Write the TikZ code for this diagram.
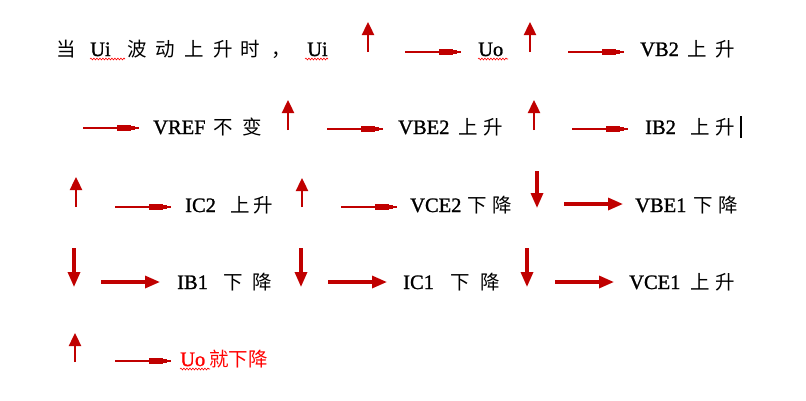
\documentclass[tikz,border=0pt]{standalone}
\usepackage{fontspec}
\setmainfont{Liberation Serif}[FakeBold=1.2]
\newfontfamily\cjk{Noto Sans CJK SC}
\usetikzlibrary{arrows.meta,decorations.pathmorphing}
\definecolor{arrred}{HTML}{C00000}
\definecolor{txtred}{HTML}{FF0000}
\tikzset{
  lat/.style={anchor=base west, inner sep=0pt, font=\fontsize{20.5}{20}\selectfont},
  zh/.style={anchor=base west, inner sep=0pt, font=\cjk\fontsize{19.5}{20}\selectfont},
  uparr/.style={draw=arrred, line width=2.4pt, -{Triangle[length=13pt,width=12pt]}, arrred},
  downarr/.style={draw=arrred, line width=3.2pt, -{Triangle[length=15pt,width=12pt]}, arrred},
  boldarr/.style={draw=arrred, line width=3.2pt, -{Triangle[length=15pt,width=12pt]}, arrred},
  thinline/.style={draw=arrred, line width=1.3pt},
  squig/.style={draw=red, line width=0.6pt, decorate, decoration={snake, segment length=3pt, amplitude=0.9pt}},
}
% thin "arrow": line with small block near the end
\newcommand{\thinarr}[2]{%
  \draw[thinline] (#1,#2) -- ++(56,0);
  \fill[arrred] (#1+34,#2-3) rectangle (#1+48,#2+3);
  \fill[arrred] (#1+48,#2-2) rectangle (#1+52,#2+2);
}
\begin{document}
\begin{tikzpicture}[x=1pt,y=-1pt]
\useasboundingbox (0,0) rectangle (806,400);
% ---------- row 1 ----------
\node[zh] (r1a) at (56,56) {当};
\node[lat] (r1b) at (90,56) {Ui};
\node[zh] (r1c) at (127,56) {波};
\node[zh] (r1d) at (155,56) {动};
\node[zh] (r1e) at (184,56) {上};
\node[zh] (r1f) at (213,56) {升};
\node[zh] (r1g) at (240,56) {时};
\node[zh] (r1h) at (271,56) {，};
\node[lat] (r1i) at (307,56) {Ui};
\draw[squig] (90,59) -- (125,59);
\draw[squig] (305,59) -- (328,59);
\draw[uparr] (368,52) -- (368,22);
\thinarr{405}{52}
\node[lat] (r1j) at (478,56) {Uo};
\draw[squig] (478,59) -- (508,59);
\draw[uparr] (530,52) -- (530,22);
\thinarr{568}{52}
\node[lat] (r1k) at (640,56) {VB2};
\node[zh] (r1l) at (687,56) {上};
\node[zh] (r1m) at (715,56) {升};
% ---------- row 2 ----------
\thinarr{83}{128}
\node[lat] (r2a) at (153,134) {VREF};
\node[zh] (r2b) at (213,134) {不};
\node[zh] (r2c) at (242,134) {变};
\draw[uparr] (288,130) -- (288,100);
\thinarr{327}{129}
\node[lat] (r2d) at (398,134) {VBE2};
\node[zh] (r2e) at (458,134) {上};
\node[zh] (r2f) at (483,134) {升};
\draw[uparr] (534,130) -- (534,100);
\thinarr{572}{129}
\node[lat] (r2g) at (645,134) {IB2};
\node[zh] (r2h) at (690,134) {上};
\node[zh] (r2i) at (715,134) {升};
\draw[black, line width=1.4pt] (741,116) -- (741,138);
% ---------- row 3 ----------
\draw[uparr] (76,207) -- (76,177);
\thinarr{115}{207}
\node[lat] (r3a) at (185,212) {IC2};
\node[zh] (r3b) at (230,212) {上};
\node[zh] (r3c) at (253,212) {升};
\draw[uparr] (302,207) -- (302,178);
\thinarr{341}{207}
\node[lat] (r3d) at (410,212) {VCE2};
\node[zh] (r3e) at (467,212) {下};
\node[zh] (r3f) at (492,212) {降};
\draw[downarr] (537,171) -- (537,208);
\draw[boldarr] (564,204) -- (623,204);
\node[lat] (r3g) at (635,212) {VBE1};
\node[zh] (r3h) at (693,212) {下};
\node[zh] (r3i) at (718,212) {降};
% ---------- row 4 ----------
\draw[downarr] (74,248) -- (74,287);
\draw[boldarr] (101,282) -- (160,282);
\node[lat] (r4a) at (177,289) {IB1};
\node[zh] (r4b) at (223,289) {下};
\node[zh] (r4c) at (252,289) {降};
\draw[downarr] (301,248) -- (301,287);
\draw[boldarr] (328,282) -- (387,282);
\node[lat] (r4d) at (403,289) {IC1};
\node[zh] (r4e) at (450,289) {下};
\node[zh] (r4f) at (480,289) {降};
\draw[downarr] (527,248) -- (527,287);
\draw[boldarr] (555,282) -- (614,282);
\node[lat] (r4g) at (629,289) {VCE1};
\node[zh] (r4h) at (690,289) {上};
\node[zh] (r4i) at (715,289) {升};
% ---------- row 5 ----------
\draw[uparr] (75,362) -- (75,333);
\thinarr{115}{361}
\node[lat, text=txtred] (r5a) at (180,366) {Uo};
\node[zh, text=txtred, anchor=base west] (r5b) at (209,366) {就下降};
\draw[squig] (180,369) -- (210,369);
\end{tikzpicture}
\end{document}
